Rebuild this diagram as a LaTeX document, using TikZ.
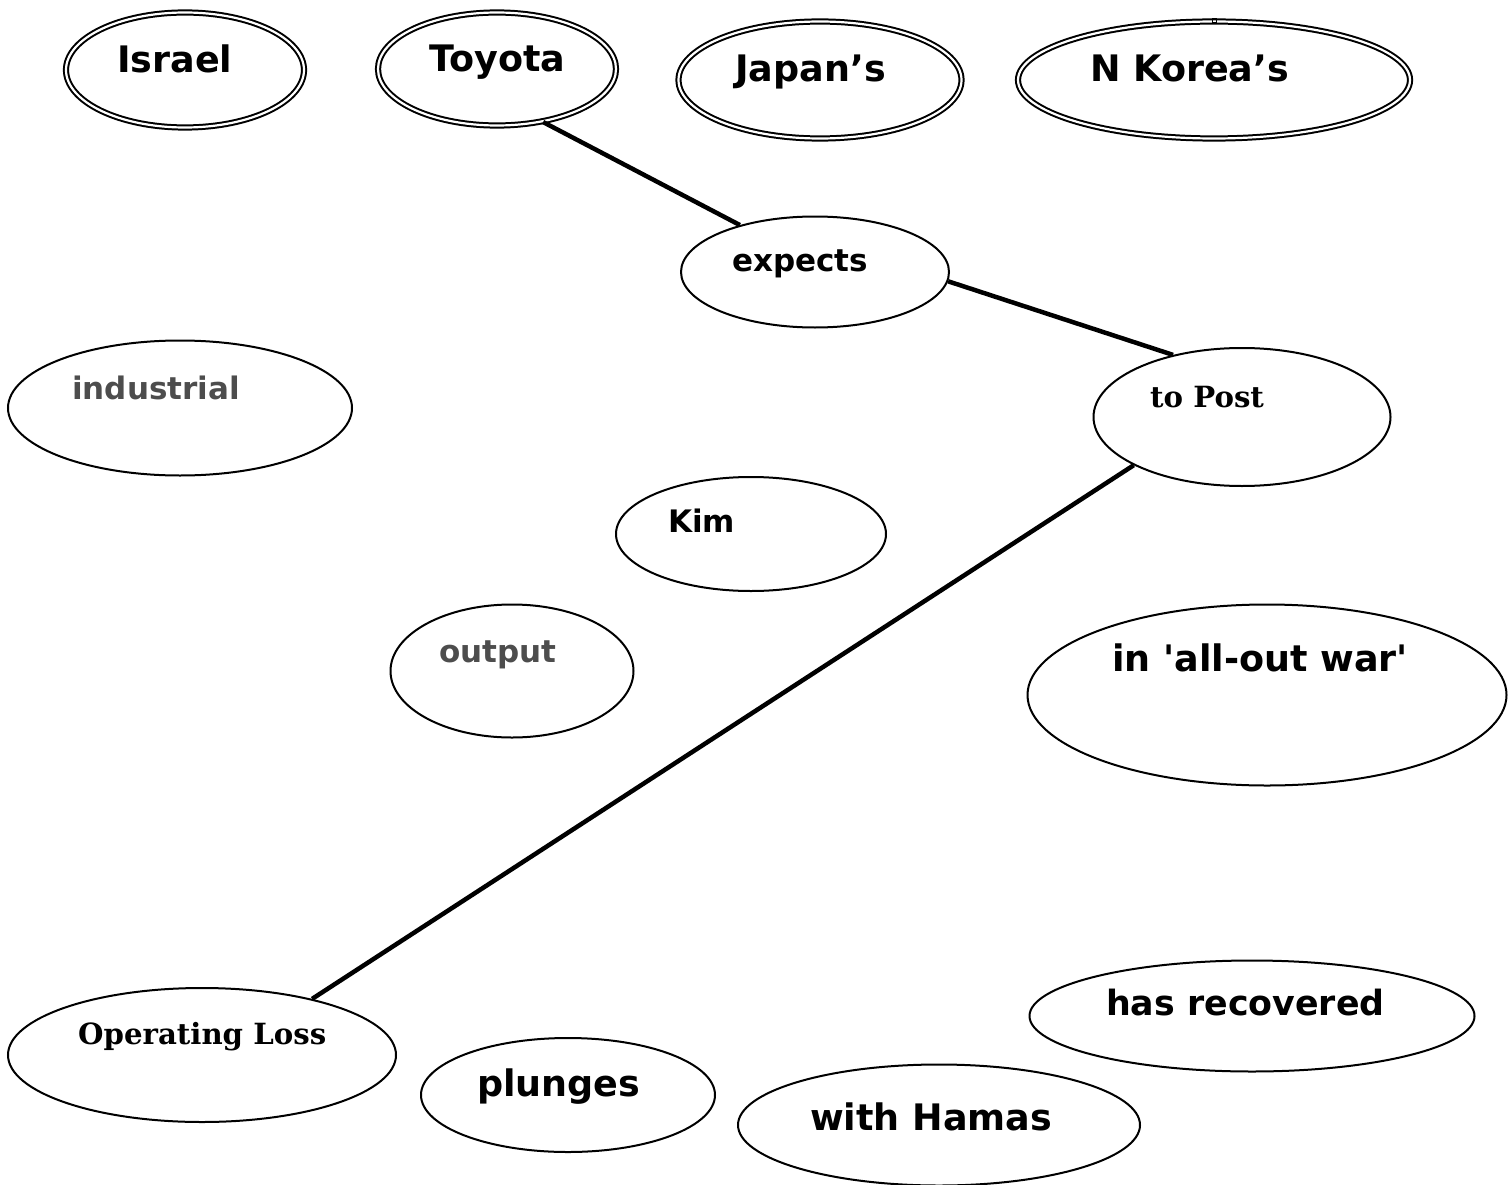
\documentclass[tikz,border=0pt]{standalone}
\usepackage{fontspec}
\setmainfont{DejaVu Sans}[Ligatures=TeXOff]
\newfontfamily\headserif{DejaVu Serif}
\usetikzlibrary{shapes.geometric}
\definecolor{wordgray}{HTML}{4D4D4D}
\tikzset{
  oval/.style={ellipse, draw, line width=2pt, inner sep=0pt},
  twooval/.style={ellipse, draw, line width=2pt, double, double distance=2.2pt, inner sep=0pt},
  bigword/.style={anchor=base west, inner sep=0pt, font=\fontsize{36.5}{42}\selectfont\bfseries},
  midword/.style={anchor=base west, inner sep=0pt, font=\fontsize{31}{36}\selectfont\bfseries},
  serifword/.style={anchor=base west, inner sep=0pt, font=\fontsize{29.2}{34}\selectfont\headserif\bfseries},
  link/.style={line width=4.5pt}
}
\begin{document}
\begin{tikzpicture}[x=1pt, y=-1pt]
      \useasboundingbox (0,0) rectangle (1509,1185);
      \draw
        (185,70) node[twooval, minimum width=238, minimum height=115] (israel){}
        (497,69) node[twooval, minimum width=238, minimum height=113] (toyota){}
        (820,80) node[twooval, minimum width=283, minimum height=117] (japan){}
        (1214,80) node[twooval, minimum width=392, minimum height=117] (nkorea){}
        (815,272) node[oval, minimum width=268, minimum height=111] (expects){}
        (1242,417) node[oval, minimum width=297, minimum height=138] (topost){}
        (180,408) node[oval, minimum width=344, minimum height=135] (industrial){}
        (751,534) node[oval, minimum width=270, minimum height=114] (kim){}
        (512,671) node[oval, minimum width=243, minimum height=133] (output){}
        (1267,695) node[oval, minimum width=479, minimum height=181] (allout){}
        (1252,1016) node[oval, minimum width=445, minimum height=111] (recovered){}
        (202,1055) node[oval, minimum width=388, minimum height=134] (oploss){}
        (568,1095) node[oval, minimum width=294, minimum height=114] (plunges){}
        (939,1125) node[oval, minimum width=402, minimum height=121] (hamas){};
      \draw[line width=1pt] (1212,19) rectangle (1216,23);
      \node[bigword] (israeltext) at (117,73) {Israel};
      \node[bigword] (toyotatext) at (429,72) {Toyota};
      \node[bigword] (japantext) at (735,82) {Japan’s};
      \node[bigword] (nkoreatext) at (1090,82) {N Korea’s};
      \node[midword] (expectstext) at (732,271) {expects};
      \node[serifword] (toposttext) at (1150,407) {to Post};
      \node[midword, text=wordgray] (industrialtext) at (72,399) {industrial};
      \node[midword] (kimtext) at (668,532) {Kim};
      \node[midword, text=wordgray] (outputtext) at (439,662) {output};
      \node[bigword] (allouttext) at (1112,671) {in 'all-out war'};
      \node[bigword, font=\fontsize{34.8}{40}\selectfont\bfseries] (recoveredtext) at (1106,1015) {has recovered};
      \node[serifword] (oplosstext) at (78,1044) {Operating Loss};
      \node[bigword] (plungestext) at (477,1096) {plunges};
      \node[bigword] (hamastext) at (810,1130) {with Hamas};
      \begin{scope}[link]
        \draw (toyota.-49) to (expects.148);
        \draw (expects.-4) to (topost.138);
        \draw (topost.-156) to (oploss.27);
      \end{scope}
    \end{tikzpicture}
\end{document}
